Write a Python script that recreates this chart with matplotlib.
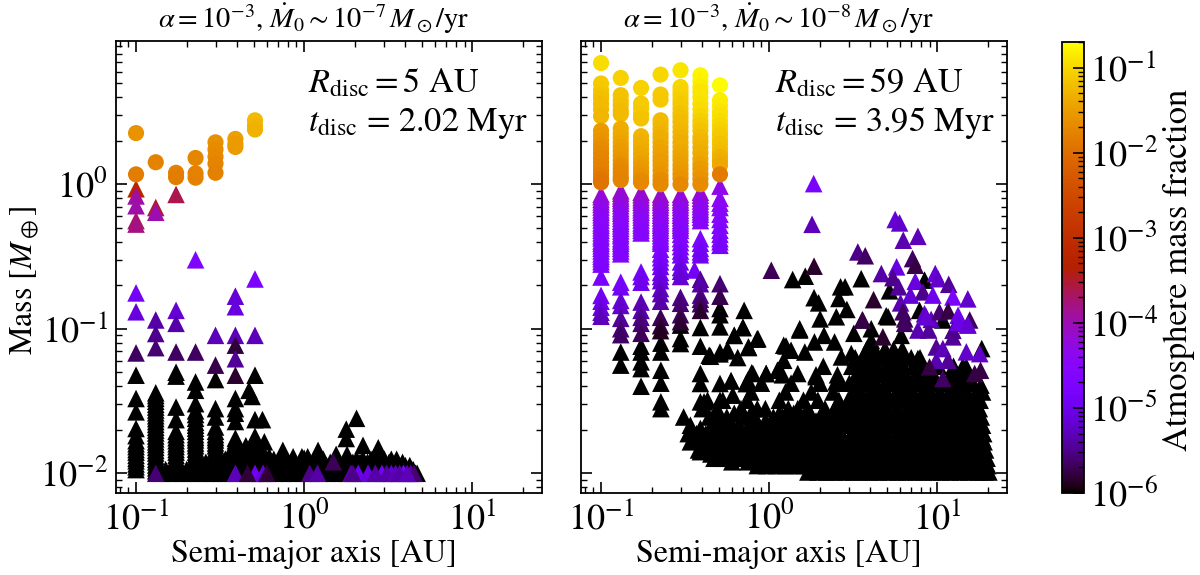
#!/usr/bin/env python3
"""Planet mass vs semi-major axis for two disc models, coloured by atmosphere fraction."""
import matplotlib

matplotlib.use("Agg")
import matplotlib.pyplot as plt  # noqa: E402
from matplotlib.colors import LogNorm  # noqa: E402
from matplotlib.ticker import LogLocator, NullFormatter  # noqa: E402

plt.rcParams.update({
    "font.family": "STIXGeneral", "mathtext.fontset": "stix",
    "xtick.direction": "in", "ytick.direction": "in",
    "xtick.top": True, "ytick.right": True,
    "axes.linewidth": 1.3,
})

# inner grid of embryo orbits, shared by both panels
col_a = [0.1, 0.131, 0.173, 0.226, 0.297, 0.39, 0.51]

# ---------------- left panel ----------------
left_circle_m = [
    [2.26, 1.17],
    [1.42],
    [1.2, 1.12],
    [1.52, 1.19, 1.11],
    [1.95, 1.74, 1.55, 1.39, 1.2],
    [2.06, 1.9, 1.81],
    [2.77, 2.55, 2.39],
]
left_circle_f = [
    [0.025, 0.015],
    [0.017],
    [0.016, 0.015],
    [0.019, 0.017, 0.016],
    [0.024, 0.022, 0.02, 0.018, 0.016],
    [0.033, 0.031, 0.03],
    [0.06, 0.055, 0.05],
]
left_black_m = [
    [0.0477, 0.0329, 0.0266, 0.0204, 0.0182, 0.0168, 0.016, 0.0153, 0.0146, 0.014, 0.0133, 0.0127, 0.0122, 0.0116,
     0.0111, 0.0106],
    [0.036, 0.0345, 0.033, 0.0315, 0.03, 0.0287, 0.0274, 0.0262, 0.025, 0.0239, 0.0228, 0.0218, 0.0208, 0.0199, 0.019,
     0.0181, 0.0173, 0.0165, 0.0158, 0.0151, 0.0144, 0.0138, 0.0131, 0.0125, 0.012, 0.0114, 0.0109, 0.0104],
    [0.05, 0.047, 0.0287, 0.0235, 0.0195, 0.0185, 0.0176, 0.0168, 0.016, 0.0153, 0.0146, 0.014, 0.0133, 0.0127, 0.0122,
     0.0116, 0.0111, 0.0106, 0.0102],
    [0.0428, 0.0375, 0.0303, 0.027, 0.0255, 0.024, 0.0225, 0.0215, 0.0205, 0.0195, 0.0185, 0.0177, 0.017, 0.0162,
     0.0155, 0.0147, 0.014, 0.0134, 0.0128, 0.0122, 0.0116, 0.0111, 0.0106, 0.0102],
    [0.0445, 0.028, 0.0245, 0.0209, 0.0195, 0.0185, 0.0177, 0.017, 0.0162, 0.0155, 0.0147, 0.014, 0.0134, 0.0128,
     0.0122, 0.0116, 0.0111, 0.0106, 0.0102],
    [0.0329, 0.028, 0.026, 0.0228, 0.0175, 0.0168, 0.016, 0.0153, 0.0146, 0.014, 0.0133, 0.0127, 0.0122, 0.0116, 0.0111,
     0.0106, 0.0102],
    [0.0477, 0.0235, 0.018, 0.0165, 0.0155, 0.0145, 0.0137, 0.013, 0.0124, 0.0118, 0.0112, 0.0106, 0.0102],
]
left_band_m = [0.01, 0.0106, 0.0113, 0.0119, 0.0125]
left_band_a = [
    [0.14, 0.155, 0.17, 0.19, 0.21, 0.235, 0.26, 0.29, 0.32, 0.36, 0.4, 0.45, 0.5, 0.55, 0.6, 0.67, 0.74,
     0.82, 0.9, 1.0, 1.1, 1.22, 1.35, 1.5, 1.65, 1.8, 2.0, 2.2, 2.45, 2.7, 3.0, 3.3, 3.65, 4.0, 4.3, 4.6, 4.7],
    [0.15, 0.18, 0.2, 0.22, 0.25, 0.275, 0.305, 0.34, 0.38, 0.42, 0.475, 0.525, 0.575, 0.635, 0.7, 0.78, 0.86, 0.95,
     1.05, 1.16, 1.28, 1.42, 1.57, 1.72, 1.9, 2.1, 2.32, 2.57, 2.85, 3.15, 3.45, 3.8, 4.15, 4.45],
    [0.25, 0.28, 0.31, 0.35, 0.4, 0.44, 0.5, 0.55, 0.61, 0.68, 0.75, 0.82, 0.91, 1.0, 1.1, 1.22, 1.36, 1.5,
     1.65, 1.85, 2.05, 2.25, 2.5, 2.75, 3.05, 3.35, 3.7, 4.0, 4.25],
    [0.26, 0.33, 0.37, 0.42, 0.47, 0.53, 0.58, 0.64, 0.71, 0.79, 0.87, 0.96, 1.05, 1.16, 1.29, 1.43, 1.58, 1.75,
     1.95, 2.15, 2.38, 2.62, 2.9, 3.2, 3.5, 3.85],
    [0.3, 0.34, 0.38, 0.42, 0.46, 0.52, 0.6, 0.66, 0.75, 0.86, 0.97, 1.05, 1.2, 1.3, 1.55, 1.8, 2.05,
     2.24, 2.5, 2.76, 3.0, 3.3, 3.55],
]
left_free_a = [0.47, 0.49, 0.565, 0.58, 0.42, 0.47, 0.56, 0.62, 0.747, 1.21, 1.55, 1.8, 2.24, 2.76, 1.78, 1.78, 2.05,
               0.36, 0.4, 0.45, 0.51, 0.86, 0.97, 1.05, 1.0]
left_free_m = [0.0375, 0.034, 0.0235, 0.0165, 0.0135, 0.0145, 0.0145, 0.013, 0.0144, 0.0144, 0.0135, 0.0135, 0.0156,
               0.015, 0.0202, 0.0174, 0.024, 0.0135, 0.0145, 0.0155, 0.0165, 0.013, 0.013, 0.013, 0.0127]
left_tri_a = [0.1, 0.1, 0.1, 0.1, 0.1, 0.131, 0.131, 0.173, 0.226,
              0.51, 0.1, 0.1, 0.1,
              0.131, 0.131, 0.131, 0.173, 0.173, 0.173, 0.226,
              0.297, 0.297, 0.39, 0.39, 0.39, 0.39, 0.39, 0.39, 0.51,
              0.131, 0.39, 0.51, 0.57, 1.08, 1.2, 1.49, 1.9, 2.1, 2.4, 2.9, 3.3, 3.9, 4.3, 4.5,
              1.95, 2.65, 3.1, 3.5, 3.7, 4.1, 0.46, 0.6]
left_tri_m = [0.93, 0.83, 0.71, 0.56, 0.53, 0.69, 0.64, 0.85, 0.30,
              0.221, 0.177, 0.131, 0.068,
              0.115, 0.0927, 0.074, 0.134, 0.109, 0.069, 0.069,
              0.09, 0.056, 0.168, 0.142, 0.09, 0.077, 0.062, 0.0477, 0.09,
              0.01, 0.01, 0.01, 0.01, 0.01, 0.01, 0.012, 0.01, 0.01, 0.01, 0.01, 0.01, 0.01, 0.01, 0.01,
              0.01, 0.01, 0.01, 0.01, 0.01, 0.01, 0.01, 0.01]
left_tri_f = [6e-4, 1.2e-4, 1.1e-4, 2e-4, 1.6e-4, 3e-4, 1e-4, 2.5e-4, 2e-5,
              1.7e-5, 1.3e-5, 8e-6, 2.2e-6,
              4e-6, 3e-6, 2.5e-6, 7e-6, 4e-6, 2.2e-6, 2.2e-6,
              5e-6, 1.8e-6, 7e-6, 8e-6, 5e-6, 1.6e-6, 3.5e-6, 1.4e-6, 5e-6,
              2.5e-6, 5e-6, 1e-5, 8e-6, 3e-6, 4e-6, 2e-6, 4e-6, 1e-5, 8e-6, 1.2e-5, 6e-6, 1.6e-5, 4e-6, 2.5e-6,
              3e-6, 4e-6, 4e-6, 5e-6, 4e-6, 5e-6, 1.6e-6, 1.6e-6]

# ---------------- right panel ----------------
right_circle_m = [
    [6.9, 4.98, 4.5, 4.15, 3.93, 3.6, 3.3, 2.96, 2.35, 2.18, 2.02, 1.88, 1.76, 1.64, 1.52, 1.42, 1.33, 1.25, 1.17, 1.09, 1.03],
    [5.44, 4.13, 3.8, 3.55, 3.25, 3.05, 2.43, 2.25, 2.1, 1.95, 1.82, 1.7, 1.58, 1.47, 1.37, 1.28, 1.2, 1.12, 1.07],
    [4.64, 3.62, 3.35, 3.05, 2.85, 2.15, 2.0, 1.87, 1.75, 1.62, 1.5, 1.4, 1.3, 1.22, 1.14, 1.07, 1.03],
    [5.74, 4.18, 3.85, 2.77, 2.6, 2.42, 2.24, 2.1, 1.95, 1.8, 1.67, 1.55, 1.45, 1.35, 1.25, 1.15, 1.07, 1.0],
    [6.15, 4.71, 4.4, 4.13, 3.85, 3.6, 3.34, 3.1, 2.9, 2.7, 2.49, 2.3, 2.12, 1.95, 1.81, 1.68, 1.57, 1.47, 1.36, 1.27, 1.18, 1.1, 1.0],
    [5.68, 5.2, 4.71, 4.35, 4.0, 3.62, 3.3, 3.0, 2.75, 2.55, 2.35, 2.12, 1.97, 1.8, 1.65, 1.5, 1.38, 1.28, 1.18, 1.09, 1.0],
    [4.84, 3.81, 3.5, 3.2, 3.0, 2.75, 2.55, 2.37, 2.2, 2.03, 1.91, 1.77, 1.65, 1.55, 1.45, 1.35, 1.17],
]
right_circle_f = [
    [0.11, 0.08, 0.075, 0.07, 0.065, 0.06, 0.058, 0.055, 0.03, 0.028, 0.026, 0.024, 0.022, 0.02, 0.019, 0.018, 0.017, 0.016, 0.015, 0.013, 0.012],
    [0.09, 0.07, 0.07, 0.065, 0.06, 0.058, 0.045, 0.042, 0.04, 0.036, 0.034, 0.03, 0.028, 0.026, 0.023, 0.02, 0.019, 0.018, 0.017],
    [0.09, 0.08, 0.08, 0.075, 0.07, 0.055, 0.05, 0.047, 0.044, 0.04, 0.038, 0.034, 0.03, 0.028, 0.025, 0.022, 0.02],
    [0.1, 0.08, 0.075, 0.06, 0.057, 0.054, 0.05, 0.045, 0.042, 0.038, 0.035, 0.033, 0.031, 0.03, 0.027, 0.025, 0.022, 0.02],
    [0.13, 0.1, 0.095, 0.09, 0.085, 0.08, 0.075, 0.07, 0.065, 0.06, 0.06, 0.055, 0.05, 0.045, 0.045, 0.04, 0.038, 0.035, 0.033, 0.03, 0.028, 0.025, 0.02],
    [0.17, 0.16, 0.14, 0.13, 0.125, 0.12, 0.11, 0.1, 0.085, 0.08, 0.07, 0.06, 0.055, 0.05, 0.045, 0.04, 0.035, 0.03, 0.027, 0.025, 0.022],
    [0.19, 0.15, 0.14, 0.13, 0.12, 0.11, 0.1, 0.09, 0.08, 0.075, 0.07, 0.065, 0.06, 0.05, 0.045, 0.04, 0.014],
]
right_col_tri_m = [
    [0.85, 0.82, 0.785, 0.755, 0.725, 0.695, 0.665, 0.64, 0.615, 0.59, 0.565, 0.54, 0.52, 0.5, 0.48, 0.46, 0.44, 0.425,
     0.405, 0.39, 0.375, 0.36, 0.345, 0.33, 0.317, 0.305, 0.292, 0.28, 0.228, 0.17, 0.155, 0.141, 0.13, 0.122],
    [0.90, 0.865, 0.83, 0.8, 0.77, 0.74, 0.71, 0.68, 0.655, 0.63, 0.605, 0.58, 0.555, 0.535, 0.515, 0.495, 0.475, 0.455,
     0.44, 0.42, 0.405, 0.39, 0.375, 0.36, 0.345, 0.33, 0.21, 0.195, 0.157, 0.145, 0.118, 0.1, 0.091],
    [0.88, 0.845, 0.81, 0.78, 0.75, 0.72, 0.69, 0.665, 0.64, 0.615, 0.59, 0.565, 0.54, 0.52, 0.5, 0.48, 0.46,
     0.247, 0.23, 0.21, 0.153, 0.134, 0.12, 0.109, 0.093],
    [0.85, 0.815, 0.78, 0.75, 0.72, 0.69, 0.66, 0.635, 0.61, 0.585, 0.56, 0.54, 0.52, 0.5, 0.48, 0.46, 0.44, 0.42, 0.405,
     0.39, 0.355, 0.33, 0.31, 0.29, 0.27, 0.245, 0.23, 0.215, 0.19, 0.175, 0.155, 0.12, 0.105, 0.097],
    [0.85, 0.815, 0.78, 0.75, 0.72, 0.69, 0.66, 0.635, 0.61, 0.585, 0.56, 0.54, 0.52, 0.5, 0.48, 0.45, 0.42, 0.395,
     0.37, 0.345, 0.325, 0.29, 0.265, 0.25, 0.23, 0.165, 0.15, 0.125, 0.112],
    [0.88, 0.84, 0.8, 0.765, 0.73, 0.7, 0.67, 0.645, 0.62, 0.59, 0.56, 0.42, 0.39, 0.36, 0.34, 0.325, 0.22, 0.205, 0.171,
     0.16, 0.149, 0.134],
    [0.97, 0.8, 0.74, 0.69, 0.62, 0.57, 0.52, 0.48, 0.45, 0.42, 0.4, 0.378, 0.205, 0.168],
]
right_col_tri_f = [
    [7e-5, 6.5e-5, 6e-5, 5.5e-5, 5e-5, 4.5e-5, 4.2e-5, 4e-5, 3.8e-5, 3.6e-5, 3.4e-5, 3.2e-5, 3e-5, 3e-5, 2.8e-5, 2.8e-5,
     2.6e-5, 2.6e-5, 2.5e-5, 2.5e-5, 2.4e-5, 2.4e-5, 2.3e-5, 2.3e-5, 2.2e-5, 2.2e-5, 2.1e-5, 2.1e-5, 1.6e-5, 1.2e-5, 1e-5,
     8e-6, 6e-6, 5e-6],
    [8e-5, 7.5e-5, 7e-5, 6.5e-5, 6e-5, 5.5e-5, 5e-5, 4.5e-5, 4.2e-5, 4e-5, 3.8e-5, 3.6e-5, 3.4e-5, 3.2e-5, 3e-5, 3e-5,
     2.8e-5, 2.8e-5, 2.6e-5, 2.6e-5, 2.5e-5, 2.5e-5, 2.4e-5, 2.4e-5, 2.3e-5, 2.3e-5, 1.6e-5, 1.3e-5, 8e-6, 6e-6, 3.5e-6, 2.5e-6, 2.2e-6],
    [8e-5, 7.5e-5, 7e-5, 6.5e-5, 6e-5, 5.5e-5, 5e-5, 4.5e-5, 4.2e-5, 4e-5, 3.8e-5, 3.6e-5, 3.4e-5, 3.2e-5, 3e-5, 3e-5,
     2.8e-5, 1.4e-5, 1.2e-5, 1e-5, 5e-6, 4e-6, 3e-6, 2.5e-6, 2e-6],
    [8e-5, 7.5e-5, 7e-5, 6.5e-5, 6e-5, 5.5e-5, 5e-5, 4.5e-5, 4.2e-5, 4e-5, 3.8e-5, 3.6e-5, 3.4e-5, 3.2e-5, 3e-5, 3e-5,
     2.8e-5, 2.6e-5, 2.5e-5, 2.4e-5, 2.2e-5, 2e-5, 1.6e-5, 1.4e-5, 1.2e-5, 1e-5, 9e-6, 8e-6, 6e-6, 5e-6, 4e-6, 2e-6, 1.6e-6, 1.3e-6],
    [7e-5, 6.5e-5, 6e-5, 5.5e-5, 5e-5, 4.5e-5, 4.2e-5, 4e-5, 3.8e-5, 3.6e-5, 3.4e-5, 3.2e-5, 3e-5, 2.8e-5, 2.8e-5, 2.6e-5,
     2.5e-5, 2.4e-5, 2e-5, 1.6e-5, 1.4e-5, 1.1e-5, 9e-6, 8e-6, 7e-6, 3e-6, 2.5e-6, 2e-6, 1.5e-6],
    [7e-5, 6e-5, 5.5e-5, 5e-5, 4.5e-5, 4.2e-5, 4e-5, 3.8e-5, 3.6e-5, 3.4e-5, 3.2e-5, 1.8e-5, 1.6e-5, 1.4e-5, 1.2e-5, 1.1e-5,
     3.5e-6, 4e-6, 3e-6, 2.5e-6, 2.2e-6, 1.4e-6],
    [5e-5, 4e-5, 3.8e-5, 3.5e-5, 3e-5, 2.8e-5, 2.5e-5, 2.2e-5, 2.1e-5, 2e-5, 1.8e-5, 1.5e-5, 2.5e-6, 1.8e-6],
]
right_col_black_m = [
    [0.069, 0.056],
    [0.0757, 0.059, 0.053, 0.04, 0.069],
    [0.0795, 0.069, 0.0516, 0.042, 0.0312, 0.028],
    [0.106, 0.0855, 0.079],
    [0.102, 0.0757, 0.049, 0.0418, 0.0312, 0.0204, 0.0169, 0.0141],
    [0.138, 0.125, 0.103, 0.069, 0.067, 0.0418, 0.032],
]
right_black_cols = [0.131, 0.173, 0.227, 0.297, 0.39, 0.51]

# the dense black cloud, row by row
cloud_m = [0.0102, 0.0113, 0.012, 0.0127, 0.0136, 0.0145, 0.0155, 0.0165, 0.0176, 0.0188, 0.02, 0.0215, 0.023, 0.0245,
           0.026, 0.028, 0.032, 0.0365, 0.042, 0.048, 0.055, 0.063, 0.072]
cloud_a = [
    [1.7, 1.95, 2.2, 2.45, 2.8, 3.15, 3.55, 4, 4.5, 5.1, 5.8, 6.5, 7.4, 8.3, 9.4, 10.6, 12, 13.6, 15.4, 17.4, 19.2, 20.3],
    [0.85, 0.97, 1.1, 1.25, 1.4, 1.6, 1.8, 2.05, 2.3, 2.6, 2.95, 3.35, 3.8, 4.3, 4.85, 5.5, 6.2, 7, 7.9, 9, 10.1, 11.5,
     13, 14.7, 16.6, 18.7, 20],
    [0.6, 0.75, 0.92, 1.15, 1.4, 1.75, 2.15, 2.65, 3.3, 4.1, 5, 6.2, 7.7, 9.5, 11.8, 14.5, 17.5],
    [0.47, 0.53, 0.6, 0.68, 0.77, 0.87, 0.98, 1.1, 1.25, 1.42, 1.6, 1.82, 2.05, 2.3, 2.65, 3, 3.4, 3.85, 4.35, 4.9, 5.55,
     6.3, 7.1, 8, 9.1, 10.3, 11.6, 13.2, 14.9, 16.8, 19, 19.8],
    [0.45, 0.55, 0.68, 0.84, 1.03, 1.27, 1.57, 1.93, 2.4, 2.95, 3.65, 4.5, 5.55, 6.85, 8.4, 10.4, 12.8, 15.8, 18.6],
    [0.38, 0.44, 0.5, 0.56, 0.64, 0.72, 0.82, 0.93, 1.05, 1.18, 1.34, 1.52, 1.72, 1.95, 2.2, 2.5, 2.8, 3.2, 3.6, 4.1, 4.6,
     5.2, 5.9, 6.7, 7.6, 8.6, 9.7, 11, 12.4, 14, 15.9, 17.9, 19.4],
    [0.41, 0.5, 0.62, 0.77, 0.95, 1.17, 1.45, 1.78, 2.2, 2.7, 3.35, 4.1, 5.05, 6.25, 7.7, 9.5, 11.7, 14.4, 17.8],
    [0.34, 0.4, 0.45, 0.52, 0.58, 0.66, 0.75, 0.85, 0.96, 1.08, 1.23, 1.4, 1.58, 1.78, 2.02, 2.3, 2.6, 2.95, 3.3, 3.8, 4.3,
     4.85, 5.5, 6.2, 7, 8, 9, 10.2, 11.5, 13, 14.7, 16.6, 19],
    [0.37, 0.46, 0.57, 0.7, 0.86, 1.06, 1.3, 1.6, 2, 2.45, 3.05, 3.75, 4.6, 5.7, 7, 8.65, 10.7, 13.2, 16.2, 18.5],
    [0.33, 0.37, 0.42, 0.48, 0.54, 0.61, 0.7, 0.79, 0.89, 1, 1.14, 1.3, 1.46, 1.65, 1.87, 2.1, 2.4, 2.7, 3.1, 3.5, 4, 4.5,
     5.1, 5.8, 6.5, 7.4, 8.4, 9.5, 10.7, 12.1, 13.7, 15.5, 17.5, 18.9],
    [0.39, 0.6, 0.74, 0.91, 1.12, 1.38, 1.7, 2.1, 2.6, 3.2, 3.95, 4.85, 6, 7.4, 9.1, 11.2, 13.9, 17.1],
    [0.34, 0.46, 0.52, 0.66, 0.76, 0.87, 1.0, 1.12, 1.26, 1.42, 1.6, 1.8, 2.05, 2.3, 2.6, 3, 3.35, 3.8, 4.3, 4.9,
     5.5, 6.3, 7.1, 8, 9, 10.2, 11.5, 13, 14.8, 16.8, 18.6],
    [0.47, 0.59, 0.8, 0.95, 1.13, 1.3, 1.9, 2.35, 2.9, 3.55, 4.4, 5.4, 6.65, 8.2, 10.1, 12.5, 15.4, 17.8],
    [0.31, 0.44, 0.56, 0.72, 0.82, 1.06, 1.2, 1.36, 1.55, 1.75, 2, 2.25, 2.55, 2.9, 3.25, 3.7, 4.2, 4.7, 5.3, 6, 6.8,
     7.7, 8.7, 9.8, 11.1, 12.6, 14.2, 16, 18.3],
    [0.5, 0.62, 0.78, 1.15, 1.4, 1.75, 2.6, 3.1, 3.8, 4.7, 5.8, 7.1, 8.8, 10.8, 13.4, 16.5],
    [0.4, 0.49, 0.68, 0.85, 0.95, 1.3, 1.48, 1.7, 2.15, 2.45, 2.8, 3.15, 3.55, 4, 4.5, 5.1, 5.8, 6.6, 7.4,
     8.4, 9.5, 10.7, 12.1, 13.7, 15.5, 17.8],
    [0.43, 0.53, 0.74, 1.15, 1.6, 1.95, 2.6, 2.95, 3.3, 3.75, 4.25, 4.8, 5.4, 6.1, 6.9, 7.8, 8.8, 9.9, 11.2,
     12.7, 14.4, 16.3, 18],
    [0.78, 1.25, 1.78, 2.4, 3.15, 3.5, 4, 4.5, 5, 5.7, 6.4, 7.2, 8.2, 9.2, 10.4, 11.8, 13.3, 15,
     17, 18.6],
    [0.9, 1.35, 2.0, 2.65, 3, 3.4, 3.85, 4.3, 4.9, 5.5, 6.2, 7, 7.9, 8.9, 10, 11.3, 12.8, 14.5, 16.3],
    [1.2, 1.9, 2.55, 3.3, 3.7, 4.1, 4.6, 5.2, 5.8, 6.5, 7.4, 8.4, 9.5, 12, 13.5, 15.2],
    [2.1, 3.1, 3.5, 3.95, 4.4, 5, 5.6, 6.3, 7.2, 8.2, 10.2, 12.5, 14.2],
    [3.25, 3.8, 4.3, 4.8, 5.4, 6.1, 7, 7.9],
    [3.8, 4.25, 4.9, 5.5, 6.2],
]
# loose black triangles above the cloud
right_loose_a = [0.71, 0.62, 0.7, 0.857, 0.753, 0.847, 0.755, 0.65, 0.448, 0.568, 0.594, 0.608, 0.41, 0.8, 0.96, 1.13,
                 0.73, 1.22, 1.22, 1.12, 0.96, 0.787, 0.746, 0.593, 0.697, 0.62, 0.56, 0.44,
                 1.52, 2.12, 3.19, 2.45, 1.86, 1.26, 1.63, 1.35, 1.64, 1.38, 3.53, 2.66, 2.83, 2.6, 1.85, 1.97,
                 2.9, 2.51, 2.01, 1.52, 5.2, 4.97, 7.85, 10.8, 8.41, 5.1, 4.05, 6.1, 6.25, 7.67, 4.86, 3.7, 3.08,
                 2.69, 4.05, 1.48, 1.9, 2.5, 14.9, 18.2, 18.4]
right_loose_m = [0.134, 0.09, 0.102, 0.0855, 0.0748, 0.0847, 0.0741, 0.0632, 0.0645, 0.071, 0.0436, 0.0347, 0.0312,
                 0.049, 0.049, 0.0516, 0.0417, 0.0769, 0.0605, 0.0516, 0.049, 0.0495, 0.044, 0.0436, 0.102, 0.09,
                 0.0703, 0.0656,
                 0.098, 0.09, 0.093, 0.081, 0.081, 0.076, 0.069, 0.071, 0.231, 0.219, 0.222, 0.195, 0.195, 0.162,
                 0.164, 0.151, 0.136, 0.121, 0.117, 0.1, 0.183, 0.123, 0.134, 0.115, 0.217, 0.121, 0.1, 0.09, 0.0672,
                 0.0622, 0.071, 0.0673, 0.0673, 0.0638, 0.0832, 0.049, 0.0466, 0.0429, 0.0545, 0.0407, 0.0729]
# coloured scatter at larger separations
right_tri_a = [0.36, 1.03, 1.84, 1.80, 5.62, 5.97, 6.28, 7.67, 3.37, 3.73, 7.13, 7.4, 1.85, 4.65, 5.73, 5.45, 5.89, 7.4,
               9.73, 10.1, 11.7, 8.22, 9.42, 12.4, 15.2, 6.93, 6.05, 4.18, 3.58, 6.4, 6.25, 8.4, 9.2, 10.3, 11.6,
               13.3, 15.6, 13.3, 15.2, 9.87, 10.8, 14.9, 17.9, 12.4, 12.4, 13.3, 15.2, 11.6, 9.87, 9.0, 10.8, 18.1,
               16.7, 6.4, 7.67, 8.9, 8.6, 4.75, 3.6]
right_tri_m = [0.255, 0.254, 1.01, 0.528, 0.57, 0.54, 0.41, 0.436, 0.34, 0.32, 0.306, 0.275, 0.271, 0.241, 0.268, 0.226,
               0.195, 0.213, 0.241, 0.222, 0.203, 0.18, 0.171, 0.166, 0.161, 0.171, 0.151, 0.159, 0.115, 0.117, 0.131,
               0.127, 0.116, 0.131, 0.133, 0.124, 0.115, 0.109, 0.107, 0.0748, 0.0729, 0.0692, 0.0673, 0.0879, 0.0975,
               0.111, 0.106, 0.0605, 0.0605, 0.0545, 0.0452, 0.0516, 0.049, 0.109, 0.098, 0.098, 0.121, 0.0879, 0.115]
right_tri_f = [1.2e-5, 2e-6, 1.6e-5, 5e-6, 7e-6, 6e-6, 4.5e-6, 5e-6, 3e-6, 2.2e-6, 2.2e-6, 1.7e-6, 1.4e-6, 4e-6, 8e-6, 3e-6,
               3.5e-6, 8e-6, 7e-6, 6e-6, 3.5e-6, 3e-6, 1e-5, 1.6e-5, 6e-6, 7e-6, 4.5e-6, 1.4e-6, 1.4e-6, 1.7e-6,
               2.2e-6, 6e-6, 5e-6, 2.5e-6, 1.7e-6, 1e-5, 2.2e-6, 5e-6, 7e-6, 3.5e-6, 5e-6, 6e-6, 6e-6, 3.5e-6, 3e-6,
               9e-6, 7e-6, 3.5e-6, 4.5e-6, 1.7e-6, 2.2e-6, 1.7e-6, 1.7e-6, 2.2e-6, 4.5e-6, 3.5e-6, 7e-6, 1.4e-6, 1.7e-6]

BLACK = 1e-6
norm = LogNorm(vmin=1e-6, vmax=2e-1)
S_TRI = 160
S_CIRC = 135


def scat(ax, a, m, f, marker):
    s = S_TRI if marker == "^" else S_CIRC
    return ax.scatter(a, m, c=f, s=s, marker=marker, cmap="gnuplot", norm=norm, linewidths=0)


def columns(cols, masses, fracs=None):
    """Flatten per-column mass lists into parallel a, m, f lists."""
    a_out, m_out, f_out = [], [], []
    for i, (a, ms) in enumerate(zip(cols, masses)):
        for j, m in enumerate(ms):
            a_out.append(a)
            m_out.append(m)
            f_out.append(fracs[i][j] if fracs else BLACK)
    return a_out, m_out, f_out


def rows(levels, a_lists):
    a_out, m_out = [], []
    for m, al in zip(levels, a_lists):
        a_out += al
        m_out += [m] * len(al)
    return a_out, m_out


fig = plt.figure(figsize=(12, 5.75), dpi=100)
W, H = 1200.0, 575.0
ax1 = fig.add_axes([116 / W, 1 - 493 / H, 426 / W, 452 / H])
ax2 = fig.add_axes([581 / W, 1 - 493 / H, 426 / W, 452 / H])
cax = fig.add_axes([1062 / W, 1 - 493 / H, 22 / W, 451 / H])

# left
a, m, f = columns(col_a, left_black_m)
scat(ax1, a, m, f, "^")
a, m = rows(left_band_m, left_band_a)
scat(ax1, a, m, [BLACK] * len(a), "^")
scat(ax1, left_free_a, left_free_m, [BLACK] * len(left_free_a), "^")
scat(ax1, left_tri_a, left_tri_m, left_tri_f, "^")
a, m, f = columns(col_a, left_circle_m, left_circle_f)
scat(ax1, a, m, f, "o")

# right
a, m = rows(cloud_m, cloud_a)
scat(ax2, a, m, [BLACK] * len(a), "^")
a, m, f = columns(right_black_cols, right_col_black_m)
scat(ax2, a, m, f, "^")
scat(ax2, right_loose_a, right_loose_m, [BLACK] * len(right_loose_a), "^")
scat(ax2, right_tri_a, right_tri_m, right_tri_f, "^")
a, m, f = columns(col_a, right_col_tri_m, right_col_tri_f)
scat(ax2, a, m, f, "^")
a, m, f = columns(col_a, right_circle_m, right_circle_f)
sc = scat(ax2, a, m, f, "o")

for ax in (ax1, ax2):
    ax.set_xscale("log")
    ax.set_yscale("log")
    ax.set_xlim(0.076, 26)
    ax.set_ylim(0.0073, 9.8)
    ax.xaxis.set_major_locator(LogLocator(base=10, numticks=10))
    ax.xaxis.set_minor_locator(LogLocator(base=10, subs=range(2, 10), numticks=10))
    ax.yaxis.set_major_locator(LogLocator(base=10, numticks=10))
    ax.yaxis.set_minor_locator(LogLocator(base=10, subs=range(2, 10), numticks=10))
    ax.xaxis.set_minor_formatter(NullFormatter())
    ax.yaxis.set_minor_formatter(NullFormatter())
    ax.tick_params(which="major", length=8, width=1.2, labelsize=26, pad=6)
    ax.tick_params(which="minor", length=4, width=1.0)
    ax.set_xlabel("Semi-major axis [AU]", fontsize=23, labelpad=2, x=0.465)

ax2.tick_params(labelleft=False)
ax1.set_ylabel(r"Mass [$M_\oplus$]", fontsize=23, labelpad=-1, y=0.47)
ax1.set_title(r"$\alpha = 10^{-3}$, $\dot{M}_0 \sim 10^{-7}\,M_\odot$/yr", fontsize=20.5, pad=9, x=0.465)
ax2.set_title(r"$\alpha = 10^{-3}$, $\dot{M}_0 \sim 10^{-8}\,M_\odot$/yr", fontsize=20.5, pad=9, x=0.465)

ax1.text(0.45, 0.887, r"$R_{\rm disc} = 5$ AU", transform=ax1.transAxes, fontsize=24.7, va="baseline")
ax1.text(0.45, 0.80, r"$t_{\rm disc}$ = 2.02 Myr", transform=ax1.transAxes, fontsize=24.7, va="baseline")
ax2.text(0.455, 0.887, r"$R_{\rm disc} = 59$ AU", transform=ax2.transAxes, fontsize=24.7, va="baseline")
ax2.text(0.455, 0.80, r"$t_{\rm disc}$ = 3.95 Myr", transform=ax2.transAxes, fontsize=24.7, va="baseline")

cb = fig.colorbar(sc, cax=cax)
cb.set_label("Atmosphere mass fraction", fontsize=24.8, labelpad=4, y=0.495)
cb.ax.yaxis.set_major_locator(LogLocator(base=10, numticks=10))
cb.ax.yaxis.set_minor_locator(LogLocator(base=10, subs=range(2, 10), numticks=10))
cb.ax.yaxis.set_minor_formatter(NullFormatter())
cb.ax.tick_params(which="major", direction="in", length=8, width=1.2, labelsize=26, right=True, left=False, pad=4)
cb.ax.tick_params(which="minor", direction="in", length=4, width=1.0, right=True, left=False)
cb.outline.set_linewidth(1.3)

fig.savefig("out.png", dpi=100)
